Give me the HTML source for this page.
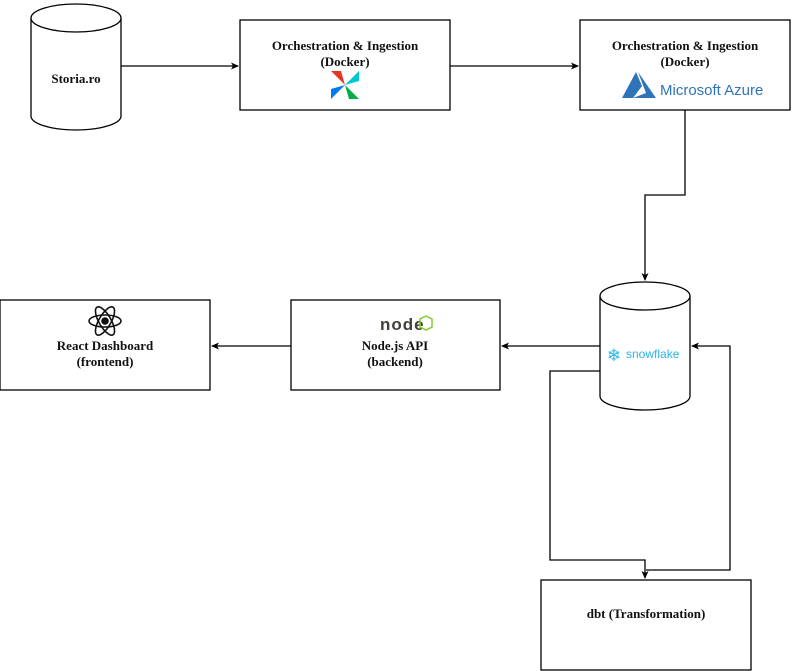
<!DOCTYPE html>
<html><head><meta charset="utf-8"><style>body{margin:0;background:#fff}svg{display:block}text{font-family:"Liberation Serif",serif;font-weight:bold;font-size:13px;fill:#111}</style></head>
<body>
<svg width="811" height="671" viewBox="0 0 811 671" xmlns="http://www.w3.org/2000/svg">
<defs><marker id="a" markerWidth="8" markerHeight="8" refX="7" refY="4" orient="auto" markerUnits="userSpaceOnUse"><path d="M0,0.5 L8,4 L0,7.5 L2,4 Z" fill="#000"/></marker></defs>
<g fill="#fff" stroke="#000" stroke-width="1.3">
<path d="M31,18 A45,14 0 0 1 121,18 V116 A45,14 0 0 1 31,116 Z"/>
<path d="M31,18 A45,14 0 0 0 121,18"/>
<rect x="240" y="20" width="210" height="90"/>
<rect x="580" y="20" width="210" height="90"/>
<path d="M600,296 A45,14 0 0 1 690,296 V396 A45,14 0 0 1 600,396 Z"/>
<path d="M600,296 A45,14 0 0 0 690,296"/>
<rect x="291" y="300" width="209" height="90"/>
<rect x="0" y="300" width="210" height="90"/>
<rect x="541" y="580" width="210" height="90"/>
</g>
<g fill="none" stroke="#000" stroke-width="1.3">
<path d="M121,66 H238" marker-end="url(#a)"/>
<path d="M450,66 H578" marker-end="url(#a)"/>
<path d="M685,110 V195 H645 V280" marker-end="url(#a)"/>
<path d="M600,346 H502" marker-end="url(#a)"/>
<path d="M291,346 H212" marker-end="url(#a)"/>
<path d="M600,371 H550 V560 H645 V578" marker-end="url(#a)"/>
<path d="M646,570 H730 V346 H692" marker-end="url(#a)"/>
</g>
<text x="76" y="83" text-anchor="middle">Storia.ro</text>
<text x="345" y="50" text-anchor="middle">Orchestration &amp; Ingestion</text>
<text x="345" y="66" text-anchor="middle">(Docker)</text>
<text x="685" y="50" text-anchor="middle">Orchestration &amp; Ingestion</text>
<text x="685" y="66" text-anchor="middle">(Docker)</text>
<!-- airflow pinwheel -->
<g transform="translate(345,85)">
<path d="M0,0 L-14,-14 L-4,-14 Z" fill="#e43921"/>
<path d="M0,0 L14,-14 L14,-4 Z" fill="#00c7d4"/>
<path d="M0,0 L14,14 L4,14 Z" fill="#00ad46"/>
<path d="M0,0 L-14,14 L-14,4 Z" fill="#017cee"/>
</g>
<!-- azure -->
<path d="M622,98 L636,72 L642,86 L633,98 Z" fill="#2f74b8"/>
<path d="M638,72 L656,98 L633,98 L646,93 Z" fill="#2f74b8"/>
<text x="660" y="95" style="font-family:'Liberation Sans',sans-serif;font-weight:normal;font-size:15px;fill:#2f74b8">Microsoft Azure</text>
<!-- snowflake -->
<text x="614" y="361" text-anchor="middle" style="font-family:'DejaVu Sans',sans-serif;font-size:17px;fill:#29b5e8">❄</text>
<text x="626" y="358" style="font-family:'Liberation Sans',sans-serif;font-weight:normal;font-size:12px;fill:#29b5e8">snowflake</text>
<!-- node -->
<text x="380" y="330" style="font-family:'Liberation Sans',sans-serif;font-size:17px;fill:#404137;letter-spacing:1px">node</text>
<polygon points="426,316 432,319 432,327 426,330 420,327 420,319" fill="none" stroke="#83cd29" stroke-width="1.5"/>
<text x="395" y="350" text-anchor="middle">Node.js API</text>
<text x="395" y="366" text-anchor="middle">(backend)</text>
<!-- react -->
<g transform="translate(105,321)" fill="none" stroke="#111" stroke-width="1.6">
<ellipse rx="16" ry="6"/><ellipse rx="16" ry="6" transform="rotate(60)"/><ellipse rx="16" ry="6" transform="rotate(-60)"/>
<circle r="3" fill="#111"/></g>
<text x="105" y="350" text-anchor="middle">React Dashboard</text>
<text x="105" y="366" text-anchor="middle">(frontend)</text>
<text x="646" y="618" text-anchor="middle">dbt (Transformation)</text>
</svg>
</body></html>
